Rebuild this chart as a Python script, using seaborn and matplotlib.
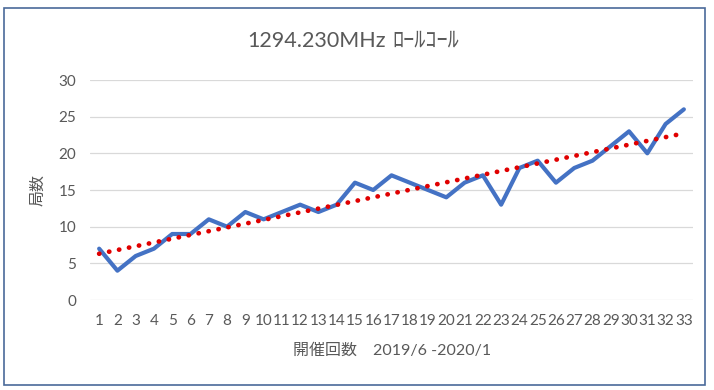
import numpy as np
import pandas as pd
import seaborn as sns
import matplotlib.pyplot as plt
from matplotlib.patches import Rectangle

# 開催回 1..33 と チェックイン局数
rounds = list(range(1, 34))
stations = [7, 4, 6, 7, 9, 9, 11, 10, 12, 11,
            12, 13, 12, 13, 16, 15, 17, 16, 15, 14,
            16, 17, 13, 18, 19, 16, 18, 19, 21, 23,
            20, 24, 26]
y_ticks = [0, 5, 10, 15, 20, 25, 30]

title_main = "1294.230MHz"
title_sub = "ﾛｰﾙｺｰﾙ"
x_label = "開催回数　2019/6 -2020/1"
y_label = "局数"

df = pd.DataFrame({'round': rounds, 'stations': stations})

sns.set_style("white")
plt.rcParams['font.family'] = ['Lato', 'Noto Sans CJK JP', 'DejaVu Sans']
text_color = '#595959'

fig = plt.figure(figsize=(7.14, 3.90), dpi=100)
ax = fig.add_axes([90 / 714, 90 / 390, 603 / 714, 220 / 390])

sns.lineplot(data=df, x='round', y='stations', ax=ax, color='#4472C4',
             linewidth=3.0, zorder=3)
sns.regplot(data=df, x='round', y='stations', ax=ax, scatter=False, ci=None,
            truncate=True,
            line_kws=dict(color='#E00000', linewidth=3.4,
                          linestyle=(0, (0.05, 2.1)),
                          dash_capstyle='round', zorder=4))

ax.set_xlim(0.5, 33.5)
ax.set_ylim(0, 30)
ax.set_xticks(rounds)
ax.set_xticklabels([str(r) for r in rounds])
ax.set_yticks(y_ticks)
ax.tick_params(axis='both', length=0, labelsize=11, labelcolor=text_color)
ax.tick_params(axis='y', pad=10)
ax.tick_params(axis='x', pad=10)
ax.grid(axis='y', color='#D9D9D9', linewidth=0.9)
ax.grid(axis='x', visible=False)
for s in ax.spines.values():
    s.set_visible(False)

ax.set_xlabel("")
ax.set_ylabel("")
fig.text(392 / 714, 1 - 351 / 390, x_label, ha='center', va='center',
         fontsize=11.5, color=text_color)
fig.text(38 / 714, 1 - 190 / 390, y_label, ha='center', va='center',
         rotation=90, fontsize=11.5, color=text_color)

fig.text(386 / 714, 1 - 41 / 390, title_main, ha='right', va='center',
         fontsize=15.5, color=text_color)
fig.text(392 / 714, 1 - 40 / 390, title_sub, ha='left', va='center',
         fontsize=16, color=text_color)

# 外枠
fig.patches.append(Rectangle((4 / 714, 1 - 385 / 390), 701 / 714, 377 / 390,
                             transform=fig.transFigure, fill=False,
                             edgecolor='#4A6A9A', linewidth=1.2))

fig.savefig('out.png', dpi=100)
